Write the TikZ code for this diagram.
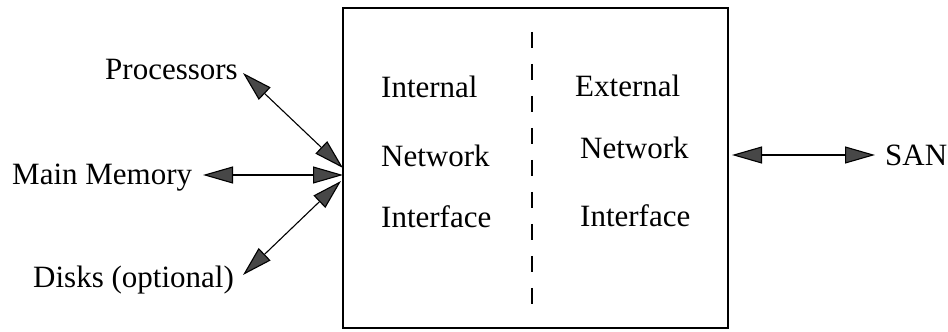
\documentclass[tikz,border=0pt]{standalone}
\usepackage{fontspec}
\setmainfont{Liberation Serif}
\usetikzlibrary{arrows.meta}
\begin{document}
\begin{tikzpicture}[x=1pt,y=1pt,
  lbl/.style={font=\fontsize{31}{36}\selectfont, inner sep=0pt, anchor=base west},
  dbl/.style={{Triangle[length=30pt,width=17pt,fill=black!72]}-{Triangle[length=30pt,width=17pt,fill=black!72]}, line width=1.1pt, draw=black},
  boxst/.style={draw, line width=1.3pt, minimum width=385pt, minimum height=320pt, inner sep=0pt},
  divider/.style={line width=1.1pt, dash pattern=on 16pt off 16pt}
]
\useasboundingbox (0,0) rectangle (948,332);
% box
\node[boxst] (nic) at (535.5,164) {};
\coordinate (divtop) at (532,300);
\coordinate (divbot) at (532,14);
\draw[divider] (divtop) -- (divbot);
% texts inside
\node[lbl] (int1) at (381,234) {Internal};
\node[lbl] (int2) at (381,165) {Network};
\node[lbl] (int3) at (381,104) {Interface};
\node[lbl] (ext1) at (575,235) {External};
\node[lbl] (ext2) at (580,173) {Network};
\node[lbl] (ext3) at (580,105) {Interface};
% outside labels
\node[lbl] (proc) at (105,252) {Processors};
\node[lbl] (mem) at (12,147) {Main Memory};
\node[lbl] (disk) at (33,44) {Disks (optional)};
\node[lbl] (san) at (885,166) {SAN};
% endpoints
\coordinate (pa) at (243,259);
\coordinate (pb) at (343,164);
\coordinate (ma) at (203,157);
\coordinate (mb) at (343,157);
\coordinate (da) at (243,57);
\coordinate (db) at (341,151);
\coordinate (sa) at (732,177);
\coordinate (sb) at (875,177);
\draw[dbl] (pa) -- (pb);
\draw[dbl] (ma) -- (mb);
\draw[dbl] (da) -- (db);
\draw[dbl] (sa) -- (sb);
\end{tikzpicture}
\end{document}
